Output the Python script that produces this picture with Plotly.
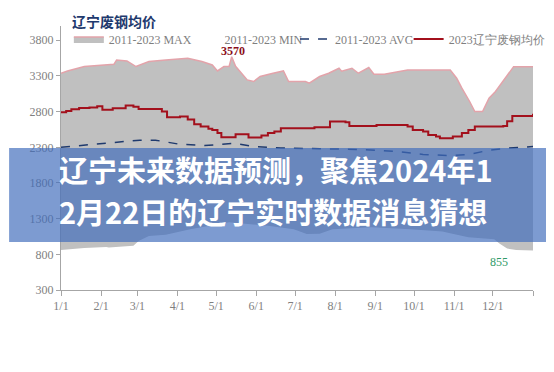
import pandas as pd
import plotly.graph_objects as go

# ---------------- data (day-of-year offsets from 2023-01-01, values in yuan/ton) -------------
max_days = [0, 5, 18, 30, 41, 43, 51, 58, 68, 81, 98, 109, 117, 121, 126, 130, 132, 135, 144, 149, 154,
            164, 172, 176, 189, 192, 200, 207, 215, 217, 225, 230, 238, 242, 250, 268, 301, 306, 310,
            316, 320, 326, 331, 336, 341, 346, 350, 365]
max_vals = [3338, 3370, 3432, 3454, 3464, 3524, 3510, 3432, 3502, 3524, 3548, 3502, 3454, 3370, 3432, 3432,
            3570, 3436, 3244, 3222, 3292, 3338, 3370, 3222, 3222, 3198, 3292, 3338, 3408, 3366, 3408,
            3338, 3418, 3324, 3324, 3384, 3384, 3268, 3128, 2942, 2802, 2802, 2988, 3082, 3200, 3330,
            3430, 3430]

min_days = [0, 18, 35, 37, 56, 60, 68, 81, 100, 130, 160, 180, 190, 200, 210, 240, 270, 295, 300, 315,
            335, 339, 345, 352, 365]
min_vals = [860, 888, 902, 895, 920, 985, 1056, 1075, 1150, 1250, 1200, 1150, 1085, 1090, 1150, 1180,
            1150, 1120, 1100, 1040, 1010, 950, 880, 860, 855]

avg_days = [0, 23, 61, 73, 91, 111, 134, 149, 170, 200, 230, 260, 280, 300, 316, 331, 346, 365]
avg_vals = [2300, 2340, 2400, 2400, 2345, 2325, 2355, 2310, 2290, 2280, 2270, 2240, 2200, 2185, 2200,
            2260, 2290, 2310]

cur_days = [0, 4, 8, 14, 22, 28, 32, 40, 50, 56, 60, 78, 82, 92, 98, 103, 108, 114, 117, 121, 124, 135,
            145, 155, 160, 165, 170, 196, 208, 220, 223, 244, 258, 268, 272, 280, 284, 290, 293, 303,
            310, 315, 320, 342, 345, 349, 365]
cur_vals = [2790, 2810, 2834, 2850, 2858, 2876, 2826, 2848, 2886, 2870, 2838, 2800, 2722, 2732, 2690,
            2624, 2592, 2560, 2544, 2500, 2442, 2484, 2438, 2466, 2500, 2522, 2568, 2580, 2662, 2652,
            2600, 2614, 2614, 2592, 2544, 2520, 2474, 2450, 2428, 2452, 2500, 2544, 2592, 2600, 2666,
            2740, 2770]

month_ticks = ["2023-01-01", "2023-02-01", "2023-03-01", "2023-04-01", "2023-05-01", "2023-06-01",
               "2023-07-01", "2023-08-01", "2023-09-01", "2023-10-01", "2023-11-01", "2023-12-01",
               "2024-01-01"]
month_labels = ["1/1", "2/1", "3/1", "4/1", "5/1", "6/1", "7/1", "8/1", "9/1", "10/1", "11/1", "12/1", ""]

series_names = ["2011-2023 MAX", "2011-2023 MIN", "2011-2023 AVG", "2023辽宁废钢均价"]
chart_title = "辽宁废钢均价"
banner_lines = ["辽宁未来数据预测，聚焦2024年1", "2月22日的辽宁实时数据消息猜想"]
peak_label = "3570"
low_label = "855"

# ---------------------------------------------------------------------------------------------
base = pd.Timestamp("2023-01-01")
def to_dates(days):
    return [base + pd.Timedelta(days=d) for d in days]

SERIF = "Liberation Serif, Times New Roman, serif"
GREY_TXT = "#7f7f7f"
AXIS = "#a6a6a6"

L, R, T, B = 53, 19, 18, 90
W, H = 554, 372
pw, ph = W - L - R, H - T - B
def px_x(x):
    return (x - L) / pw
def px_y(y):
    return (H - B - y) / ph

fig = go.Figure()
# MIN first (lower edge of the grey band, no visible line)
fig.add_trace(go.Scatter(x=to_dates(min_days), y=min_vals, name=series_names[1], mode="lines",
                         legend="legend2", line=dict(color="rgba(255,255,255,0)", width=0)))
# MAX fills down to MIN -> grey band
fig.add_trace(go.Scatter(x=to_dates(max_days), y=max_vals, name=series_names[0], mode="lines",
                         fill="tonexty", fillcolor="#c0c0c0", legend="legend",
                         line=dict(color="#e3a3aa", width=1.5)))
fig.add_trace(go.Scatter(x=to_dates(avg_days), y=avg_vals, name=series_names[2], mode="lines",
                         legend="legend3",
                         line=dict(color="#1f3a6e", width=1.5, dash="dash")))
fig.add_trace(go.Scatter(x=to_dates(cur_days), y=cur_vals, name=series_names[3], mode="lines",
                         legend="legend4",
                         line=dict(color="#a3101c", width=2, shape="hv")))

# banner band across the whole picture
fig.add_shape(type="rect", xref="paper", yref="paper",
              x0=px_x(0), x1=px_x(W), y0=px_y(234), y1=px_y(140),
              fillcolor="rgba(63,108,187,0.68)", line=dict(width=0), layer="above")

annotations = [
    dict(text="<b>" + chart_title + "</b>", xref="paper", yref="paper", x=px_x(62), y=px_y(13),
         xanchor="left", yanchor="middle", showarrow=False,
         font=dict(family="Noto Sans CJK SC", size=14, color="#1f3a6e")),
    dict(text="<b>" + peak_label + "</b>", x=to_dates([133])[0], y=3570, xref="x", yref="y",
         xanchor="center", yanchor="bottom", yshift=-3, showarrow=False,
         font=dict(family=SERIF, size=12, color="#8b0f1a")),
    dict(text=low_label, x=to_dates([339])[0], y=855, xref="x", yref="y",
         xanchor="center", yanchor="top", yshift=-3, showarrow=False,
         font=dict(family=SERIF, size=12, color="#2f9a68")),
    dict(text="<b>" + banner_lines[0] + "</b>", xref="paper", yref="paper", x=px_x(49), y=px_y(161),
         xanchor="left", yanchor="middle", showarrow=False,
         font=dict(family="Noto Sans CJK SC", size=29, color="#ffffff")),
    dict(text="<b>" + banner_lines[1] + "</b>", xref="paper", yref="paper", x=px_x(49), y=px_y(203),
         xanchor="left", yanchor="middle", showarrow=False,
         font=dict(family="Noto Sans CJK SC", size=29, color="#ffffff")),
]

def leg(text_start):
    return dict(x=px_x(text_start - 45), y=px_y(31), xanchor="left", yanchor="middle",
                orientation="h", bgcolor="rgba(0,0,0,0)", itemwidth=30,
                font=dict(family=SERIF, size=12, color=GREY_TXT))

fig.update_layout(
    width=W, height=H,
    margin=dict(l=L, r=R, t=T, b=B, pad=0),
    paper_bgcolor="#ffffff", plot_bgcolor="#ffffff",
    showlegend=True,
    legend=leg(106), legend2=leg(224), legend3=leg(337), legend4=leg(453),
    annotations=annotations,
    xaxis=dict(type="date", range=["2023-01-01", "2024-01-01"], tickmode="array",
               tickvals=month_ticks, ticktext=month_labels, showgrid=False, zeroline=False,
               showline=True, linecolor=AXIS, linewidth=1, ticks="outside", ticklen=5,
               tickcolor=AXIS, tickfont=dict(family=SERIF, size=12, color=GREY_TXT)),
    yaxis=dict(range=[300, 4000], tickmode="linear", tick0=300, dtick=500, showgrid=False,
               zeroline=False, showline=True, linecolor=AXIS, linewidth=1, ticks="outside",
               ticklen=4, tickcolor=AXIS, tickfont=dict(family=SERIF, size=12, color=GREY_TXT)),
)

fig.write_html("out.html")
